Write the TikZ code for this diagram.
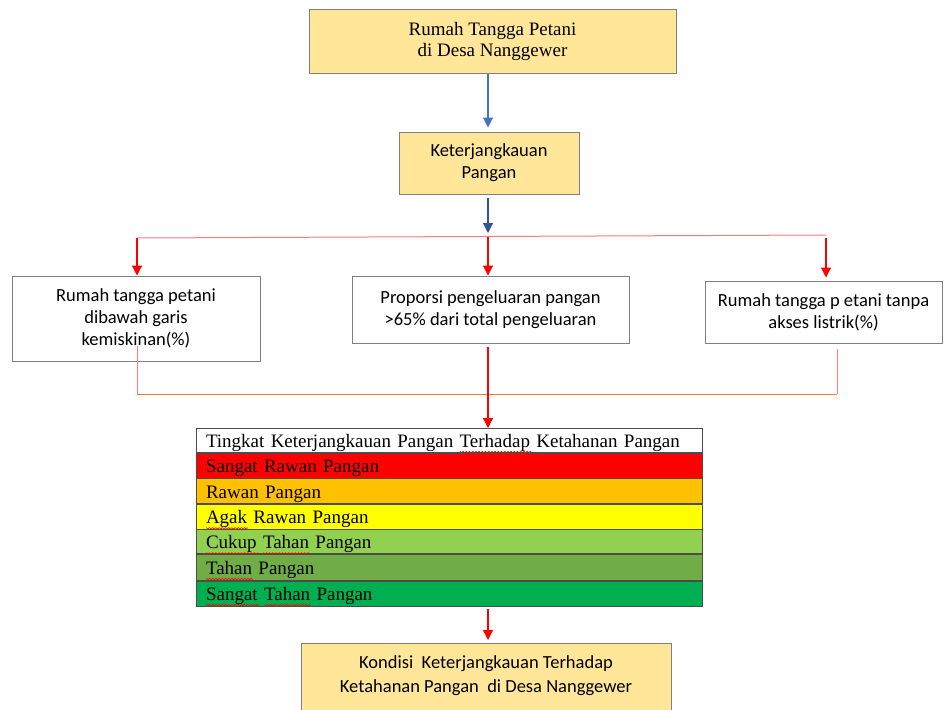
\documentclass[tikz,border=0pt]{standalone}
\usepackage{fontspec}
\setmainfont{Liberation Serif}
\newfontfamily\calib{Carlito}
\usetikzlibrary{arrows.meta}
\newlength\wvw
\newdimen\wvx
\newcount\wvi
\newcommand\redwave[1]{\settowidth\wvw{#1}\leavevmode\rlap{\begin{pgfpicture}\pgfsetbaseline{0pt}%
  \pgfsetlinewidth{0.6pt}\pgfsetstrokecolor{red}%
  \wvx=0pt \wvi=0
  \pgfpathmoveto{\pgfqpoint{0pt}{-4pt}}%
  \loop\ifdim\wvx<\wvw \advance\wvi by 1 \advance\wvx by 1.6pt
    \pgfpathlineto{\pgfqpoint{\wvx}{\ifodd\wvi -5.5pt\else -4pt\fi}}\repeat
  \pgfusepath{stroke}\end{pgfpicture}}#1}
\definecolor{boxy}{HTML}{FFE699}
\definecolor{edge}{HTML}{808080}
\definecolor{blueA}{HTML}{4472C4}
\definecolor{blueB}{HTML}{2F5597}
\definecolor{redA}{HTML}{FF0000}
\definecolor{pinkA}{HTML}{FF7C80}
\definecolor{orA}{HTML}{ED7D31}
\definecolor{rowa}{HTML}{FF0000}
\definecolor{rowb}{HTML}{FFC000}
\definecolor{rowc}{HTML}{FFFF00}
\definecolor{rowd}{HTML}{92D050}
\definecolor{rowe}{HTML}{70AD47}
\definecolor{rowf}{HTML}{00B050}
\begin{document}
\begin{tikzpicture}[x=1pt,y=-1pt,
  ybox/.style={draw=edge, fill=boxy, line width=1pt, align=center, inner sep=0pt},
  wbox/.style={draw=edge, fill=white, line width=1pt, align=center, inner sep=0pt,
    font=\calib\fontsize{18.5}{22}\selectfont},
  rowbox/.style={draw=black!70, line width=0.6pt, minimum width=506pt, minimum height=25pt,
    text width=486pt, align=left, inner xsep=10pt, inner ysep=0pt, anchor=north,
    text height=16pt, text depth=2pt,
    font=\fontsize{19}{21}\selectfont},
  arr/.style={-{Triangle[length=10pt,width=10pt]}, line width=1.2pt},
  thin line/.style={line width=1pt}]
\useasboundingbox (0,0) rectangle (944,709);
\fill[white] (0,0) rectangle (944,709);

% boxes
\node[ybox, minimum width=367pt, minimum height=63pt, font=\fontsize{19}{21}\selectfont]
  (top) at (492.5,41.5) {Rumah Tangga Petani\\di Desa Nanggewer};
\node[ybox, minimum width=180pt, minimum height=62pt, font=\calib\fontsize{18.5}{22}\selectfont]
  (ket) at (489,163) {Keterjangkauan\\Pangan};
\node[wbox, minimum width=248pt, minimum height=85pt] (L) at (136,318.5)
  {Rumah tangga petani\\dibawah garis\\kemiskinan(\%)};
\node[wbox, minimum width=277pt, minimum height=67pt] (M) at (490.5,309.5)
  {Proporsi pengeluaran pangan\\>65\% dari total pengeluaran};
\node[wbox, minimum width=237pt, minimum height=62pt] (R) at (823.5,312)
  {Rumah tangga p etani tanpa\\akses listrik(\%)};

% table
\node[rowbox, fill=white, minimum height=24pt] (h) at (449,428)
  {\mbox{Tingkat Keterjangkauan Pangan \redwave{Terhadap} Ketahanan Pangan}};
\node[rowbox, fill=rowa] (r1) at (h.south) {\mbox{\redwave{Sangat} Rawan Pangan}};
\node[rowbox, fill=rowb] (r2) at (r1.south) {\mbox{Rawan Pangan}};
\node[rowbox, fill=rowc] (r3) at (r2.south) {\mbox{\redwave{Agak} Rawan Pangan}};
\node[rowbox, fill=rowd, minimum height=24pt] (r4) at (r3.south) {\mbox{\redwave{Cukup} \redwave{Tahan} Pangan}};
\node[rowbox, fill=rowe, minimum height=26pt] (r5) at (r4.south) {\mbox{\redwave{Tahan} Pangan}};
\node[rowbox, fill=rowf] (r6) at (r5.south) {\mbox{\redwave{Sangat} \redwave{Tahan} Pangan}};

% bottom box
\node[ybox, minimum width=370pt, minimum height=90pt, anchor=north] (bot) at (486,643) {};
\node[font=\calib\fontsize{18.5}{24}\selectfont, align=center] (botl) at (486,676)
  {Kondisi~ Keterjangkauan Terhadap\\Ketahanan Pangan~ di Desa Nanggewer};

% junction coordinates
\coordinate (jl) at (137,238);
\coordinate (jt) at (488,237);
\coordinate (jr) at (826,235);
\coordinate (ls) at (137,346);
\coordinate (bl) at (137,394);
\coordinate (br) at (837,394);

% connectors
\draw[arr, blueA] (top.south -| jt) -- ([yshift=4pt]ket.north -| jt);
\draw[arr, blueB] ([yshift=-3pt]ket.south -| jt) -- ([yshift=4pt]jt);
\draw[thin line, pinkA] (jl) -- (jr);
\draw[arr, redA] (jl) -- (jl |- L.north);
\draw[arr, redA] (jt) -- (jt |- M.north);
\draw[arr, redA] ([yshift=-3pt]jr) -- ([yshift=3pt]jr |- R.north);
\draw[thin line, pinkA] (ls) -- (bl);
\draw[thin line, pinkA] (br) -- ([yshift=-5pt]br |- R.south);
\draw[thin line, orA] (bl) -- (br);
\draw[arr, redA] ([yshift=-3pt]M.south -| jt) -- (jt |- h.north);
\draw[arr, redA] ([yshift=-3pt]r6.south -| jt) -- ([yshift=3pt]jt |- bot.north);
\end{tikzpicture}
\end{document}
